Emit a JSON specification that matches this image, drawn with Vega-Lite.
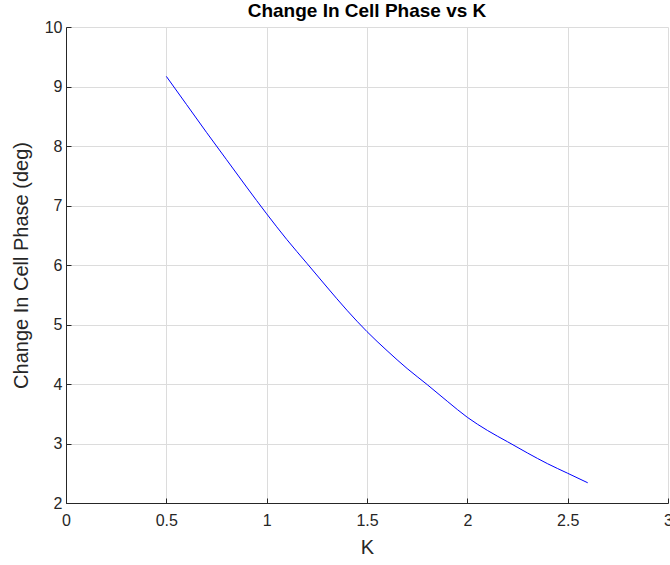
{
  "$schema": "https://vega.github.io/schema/vega-lite/v6.json",
  "width": 602,
  "height": 476,
  "autosize": {"type": "none"},
  "padding": {"left": 66, "top": 27, "right": 2, "bottom": 62},
  "background": "white",
  "title": {
    "text": "Change In Cell Phase vs K",
    "font": "Liberation Sans",
    "fontSize": 19,
    "fontWeight": "bold",
    "color": "#000000",
    "anchor": "middle",
    "offset": -2
  },
  "config": {
    "view": {"stroke": null},
    "axis": {
      "labelFont": "Liberation Sans",
      "titleFont": "Liberation Sans",
      "labelFontSize": 16,
      "titleFontSize": 20,
      "titleFontWeight": "normal",
      "labelColor": "#262626",
      "titleColor": "#262626",
      "domainColor": "#262626",
      "tickColor": "#262626",
      "gridColor": "#dcdcdc",
      "gridOpacity": 1,
      "tickSize": -5
    }
  },
  "data": {
    "values": [
      {"K": 0.5, "phase": 9.17},
      {"K": 0.6, "phase": 8.70},
      {"K": 0.7, "phase": 8.23},
      {"K": 0.8, "phase": 7.77},
      {"K": 0.9, "phase": 7.31},
      {"K": 1.0, "phase": 6.86},
      {"K": 1.1, "phase": 6.43},
      {"K": 1.2, "phase": 6.03},
      {"K": 1.3, "phase": 5.63},
      {"K": 1.4, "phase": 5.24},
      {"K": 1.5, "phase": 4.88},
      {"K": 1.6, "phase": 4.56},
      {"K": 1.7, "phase": 4.26},
      {"K": 1.8, "phase": 3.99},
      {"K": 1.9, "phase": 3.71},
      {"K": 2.0, "phase": 3.44},
      {"K": 2.1, "phase": 3.22},
      {"K": 2.2, "phase": 3.03},
      {"K": 2.3, "phase": 2.84},
      {"K": 2.4, "phase": 2.66},
      {"K": 2.5, "phase": 2.50},
      {"K": 2.6, "phase": 2.34}
    ]
  },
  "mark": {"type": "line", "color": "#0000ff", "strokeWidth": 1, "interpolate": "monotone"},
  "encoding": {
    "x": {
      "field": "K",
      "type": "quantitative",
      "scale": {"domain": [0, 3], "nice": false, "zero": false},
      "axis": {"title": "K", "values": [0, 0.5, 1, 1.5, 2, 2.5, 3], "format": "~g", "labelPadding": 14, "titlePadding": 9, "labelFlush": false}
    },
    "y": {
      "field": "phase",
      "type": "quantitative",
      "scale": {"domain": [2, 10], "nice": false, "zero": false},
      "axis": {"title": "Change In Cell Phase (deg)", "values": [2, 3, 4, 5, 6, 7, 8, 9, 10], "format": "d", "labelPadding": 9, "titlePadding": 13, "labelFlush": false}
    }
  }
}
